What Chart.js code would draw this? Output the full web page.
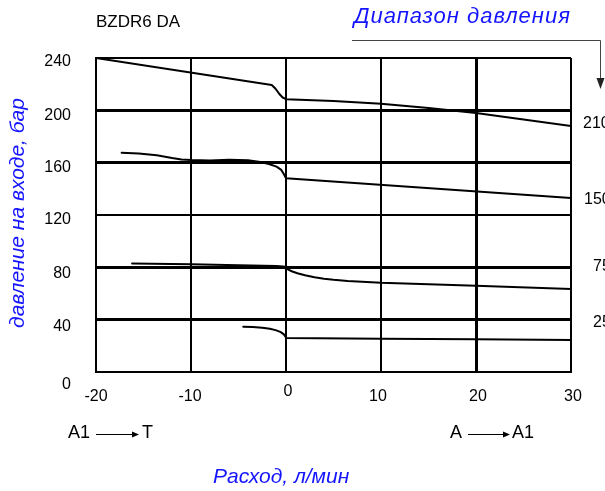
<!DOCTYPE html>
<html>
<head>
<meta charset="utf-8">
<script src="https://cdn.jsdelivr.net/npm/chart.js@4/dist/chart.umd.min.js"></script>
<style>
html,body{margin:0;padding:0;background:#fff;}
#wrap{width:605px;height:491px;position:relative;}
</style>
</head>
<body>
<div id="wrap"><canvas id="c" width="605" height="491"></canvas></div>
<script>
// ---- data ----
const xTickLabels = [-20, -10, 0, 10, 20, 30];
const yTickLabels = [0, 40, 80, 120, 160, 200, 240];
const rangeLabels = ["210", "150", "75", "25"];

const s210X = [-20, -1.5, -1.1, -0.7, -0.35, 0, 5, 10, 15, 20, 25, 30];
const s210Y = [240, 219.4, 216.5, 212.5, 209.8, 208.5, 207.2, 205, 201.8, 198, 193, 188];

const s150X = [-17.3, -15.5, -13.6, -12, -11, -10, -8, -6, -4, -2.7, -1.8, -1, -0.5, -0.2, 0, 30];
const s150Y = [167.6, 167, 165.6, 163.5, 162.5, 162, 161.7, 162.3, 161.8, 160.5, 159, 157, 154.5, 151, 148, 133];

const s75X = [-16.2, -10, -5, -1, 0, 0.2, 0.6, 1.2, 2, 3, 4, 5, 6.5, 8, 10, 20, 30];
const s75Y = [83, 82.3, 81.6, 81, 80.5, 78.5, 77, 75.5, 74, 72.5, 71.3, 70.5, 69.6, 69, 68.2, 66, 63.5];

const s25X = [-4.5, -3.5, -2.5, -1.7, -1.1, -0.6, -0.25, -0.05, 0, 10, 20, 30];
const s25Y = [34.6, 34.4, 33.8, 33, 32, 30.7, 29, 27, 26, 25.5, 25, 24.5];

function pts(xs, ys){ return xs.map((x,i)=>({x:x, y:ys[i]})); }

const FONT = '"Liberation Sans", Arial, sans-serif';
const BLUE = 'rgb(20,20,255)';

const textPlugin = {
  id: 'texts',
  afterDraw(chart){
    const ctx = chart.ctx;
    const xs = chart.scales.x, ys = chart.scales.y;
    ctx.save();
    ctx.fillStyle = '#000';
    ctx.textBaseline = 'middle';
    // y tick labels
    ctx.font = '16px ' + FONT;
    ctx.textAlign = 'right';
    const yOff = {0:13, 40:7, 80:6, 120:5, 160:5, 200:5, 240:4};
    yTickLabels.forEach(v=>{
      ctx.fillText(String(v), 71, ys.getPixelForValue(v) + yOff[v]);
    });
    // x tick labels
    ctx.textAlign = 'center';
    const xOff = {'-20':0, '-10':-1, '0':2, '10':-3, '20':2, '30':2};
    xTickLabels.forEach(v=>{
      const px = xs.getPixelForValue(v) + xOff[String(v)];
      const py = ys.bottom + (v === 0 ? 20 : 25);
      ctx.fillText(String(v), px, py);
    });
    // right range labels (clipped by edge)
    ctx.textAlign = 'left';
    const rangeY = [124, 200, 267, 323];
    const rangeX = [583, 584, 593, 593];
    rangeLabels.forEach((t,i)=>ctx.fillText(t, rangeX[i], rangeY[i]));
    // title
    ctx.font = '17px ' + FONT;
    ctx.fillText('BZDR6 DA', 96, 22);
    // blue italic labels
    ctx.fillStyle = BLUE;
    ctx.font = 'italic 21px ' + FONT;
    ctx.fillText('Расход, л/мин', 213, 477);
    ctx.save();
    ctx.translate(18, 213);
    ctx.rotate(-Math.PI/2);
    ctx.textAlign = 'center';
    ctx.fillText('давление на входе, бар', 0, 0);
    ctx.restore();
    ctx.save();
    ctx.font = 'italic 22px ' + FONT;
    ctx.letterSpacing = '1px';
    ctx.fillText('Диапазон давления', 354, 17);
    ctx.restore();
    // pressure-range arrow
    ctx.strokeStyle = '#444';
    ctx.fillStyle = '#222';
    ctx.lineWidth = 1;
    ctx.beginPath();
    ctx.moveTo(352, 40.5); ctx.lineTo(600.5, 40.5); ctx.lineTo(600.5, 80);
    ctx.stroke();
    ctx.beginPath();
    ctx.moveTo(596.5, 78); ctx.lineTo(604.5, 78); ctx.lineTo(600.5, 89);
    ctx.closePath(); ctx.fill();
    // bottom flow direction labels
    ctx.fillStyle = '#000';
    ctx.strokeStyle = '#000';
    ctx.font = '18px ' + FONT;
    ctx.textAlign = 'left';
    ctx.fillText('A1', 68, 433);
    ctx.fillText('T', 142, 433);
    ctx.fillText('A', 450, 433);
    ctx.fillText('A1', 512, 433);
    function arrow(x1, x2, y){
      ctx.beginPath(); ctx.moveTo(x1, y+0.5); ctx.lineTo(x2-6, y+0.5); ctx.stroke();
      ctx.beginPath(); ctx.moveTo(x2-7, y-2.5); ctx.lineTo(x2, y+0.5); ctx.lineTo(x2-7, y+3.5); ctx.closePath(); ctx.fill();
    }
    arrow(96, 139, 434);
    arrow(468, 510, 434);
    ctx.restore();
  }
};

function ds(data){
  return {data:data, borderColor:'#000', borderWidth:2, pointRadius:0, fill:false,
          tension:0, borderJoinStyle:'round', borderCapStyle:'round'};
}

new Chart(document.getElementById('c'), {
  type: 'line',
  data: { datasets: [ds(pts(s210X,s210Y)), ds(pts(s150X,s150Y)), ds(pts(s75X,s75Y)), ds(pts(s25X,s25Y))] },
  options: {
    responsive: false,
    animation: false,
    events: [],
    layout: { padding: { left: 96, right: 34, top: 58, bottom: 119 } },
    plugins: { legend: {display:false}, tooltip: {enabled:false} },
    scales: {
      x: {
        type: 'linear', min: -20, max: 30,
        ticks: { display: false, stepSize: 10 },
        grid: { color:'#000', drawTicks:false,
          lineWidth: c => (c.tick && c.tick.value === 20) ? 3 : 2 },
        border: { color:'#000', width:2 }
      },
      y: {
        type: 'linear', min: 0, max: 240,
        ticks: { display: false, stepSize: 40 },
        grid: { color:'#000', drawTicks:false,
          lineWidth: c => (c.tick && [40,80,160,200].includes(c.tick.value)) ? 3 : 2 },
        border: { color:'#000', width:2 }
      }
    }
  },
  plugins: [textPlugin]
});
</script>
</body>
</html>
